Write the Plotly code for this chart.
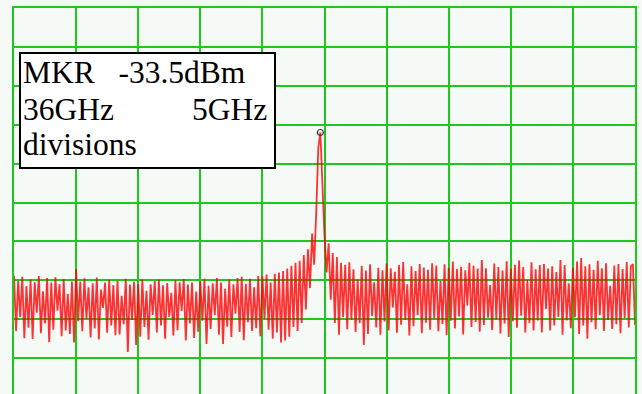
import plotly.graph_objects as go

# Spectrum analyser sweep: 301 samples from 11 GHz to 61 GHz, levels in dBm
start_ghz = 11.0
step_ghz = 50.0 / 300
levels_dbm = [
    # 11 GHz ... ~33.8 GHz (noise floor)
    -68.8, -83.0, -70.2, -79.5, -69.1, -84.9, -71.5, -82.2, -69.8, -85.1,
    -70.5, -78.3, -68.9, -83.6, -72.8, -81.1, -69.4, -85.9, -70.6, -82.7,
    -69.2, -77.8, -71.0, -84.4, -69.7, -82.9, -73.5, -83.8, -70.3, -86.0,
    -67.1, -80.5, -70.3, -83.1, -69.5, -79.9, -71.8, -84.7, -70.8, -82.4,
    -69.3, -85.2, -72.4, -77.1, -70.6, -83.5, -69.9, -81.6, -71.2, -84.1,
    -70.1, -83.9, -74.0, -81.3, -69.6, -88.4, -71.1, -80.2, -70.4, -86.6,
    -70.9, -84.5, -69.8, -82.0, -72.7, -85.3, -71.0, -78.9, -70.2, -83.4,
    -69.9, -81.6, -71.3, -85.0, -70.7, -79.4, -73.2, -84.2, -70.0, -82.8,
    -70.5, -77.9, -69.7, -85.5, -71.1, -81.1, -70.6, -84.8, -72.9, -83.2,
    -70.3, -80.4, -69.6, -86.4, -71.4, -82.5, -70.8, -79.0, -69.4, -84.0,
    -70.6, -86.4, -72.2, -81.9, -69.8, -84.6, -71.0, -78.6, -69.4, -83.3,
    -69.1, -85.4, -70.9, -80.8, -69.6, -83.0, -71.8, -82.3, -68.9, -84.4,
    -69.0, -79.9, -68.5, -82.7, -70.6, -85.0, -68.3, -83.4, -68.0, -86.0,
    -67.6, -85.5, -67.0, -84.5, -66.3, -82.0, -65.5, -83.0,
    # skirt and carrier peak (~35.7 GHz)
    -65.0, -81.0, -63.5, -77.5, -62.0, -72.0, -58.0, -66.0, -52.5, -36.0,
    -32.0, -47.0, -58.5, -68.0, -60.5, -75.0, -63.0, -81.0, -64.0, -84.0,
    -65.5,
    # ~37.5 GHz ... 61 GHz (noise floor)
    -79.5, -66.0, -82.6, -65.4, -80.1, -67.2, -83.3, -69.8, -81.0, -66.3,
    -86.6, -67.5, -83.8, -65.9, -79.2, -70.5, -82.1, -66.8, -84.0, -67.4,
    -80.6, -65.7, -82.9, -66.9, -77.0, -67.8, -83.5, -66.1, -81.4, -65.3,
    -80.2, -71.0, -84.2, -66.4, -81.8, -67.6, -79.0, -65.8, -83.6, -66.7,
    -80.9, -67.3, -82.7, -65.6, -79.8, -66.2, -83.1, -70.2, -81.2, -65.9,
    -84.1, -66.8, -80.4, -65.2, -82.4, -67.1, -79.3, -66.5, -83.9, -67.4,
    -76.5, -65.5, -82.0, -66.3, -80.7, -67.0, -83.2, -64.8, -81.5, -66.9,
    -79.6, -71.2, -82.8, -65.7, -80.0, -66.6, -83.7, -67.5, -81.1, -65.1,
    -84.6, -67.0, -80.5, -66.0, -82.2, -64.9, -79.1, -66.6, -83.4, -69.9,
    -81.0, -65.4, -82.9, -67.2, -80.3, -66.1, -83.4, -65.8, -77.4, -67.0,
    -82.9, -66.4, -81.6, -67.9, -79.4, -64.8, -84.0, -66.1, -80.3, -70.8,
    -82.3, -66.7, -79.5, -65.2, -83.8, -64.3, -81.6, -66.4, -85.0, -65.9,
    -80.8, -67.3, -82.6, -65.0, -79.0, -66.9, -83.0, -65.6, -80.2, -71.4,
    -82.5, -66.2, -81.3, -65.8, -83.6, -67.1, -79.7, -65.3, -82.1, -66.5,
    -65.8, -81.5,
]

marker_ghz = [35.667]
marker_dbm = [-32.0]

box_lines = ["MKR\u00a0\u00a0\u00a0-33.5dBm", "36GHz", "divisions"]
box_right_text = "5GHz"

x_range = [11, 61]         # 5 GHz / division
y_range = [-99.23, 0]      # 0 dBm reference, 10 dB / division

GREEN = "rgb(30,200,30)"

fig = go.Figure()
fig.add_trace(go.Scatter(
    x0=start_ghz, dx=step_ghz, y=levels_dbm, mode="lines",
    line=dict(color="rgb(255,0,0)", width=1.8, shape="linear"),
    opacity=0.8, hoverinfo="skip", showlegend=False,
))
fig.add_trace(go.Scatter(
    x=marker_ghz, y=marker_dbm, mode="markers",
    marker=dict(symbol="circle-open", size=6, color="#333333", line=dict(width=1.2)),
    showlegend=False,
))

grid = dict(showgrid=True, gridcolor=GREEN, gridwidth=1.5,
            zeroline=False, showticklabels=False, ticks="",
            showline=True, linecolor=GREEN, linewidth=1.5)
fig.update_xaxes(range=x_range, tick0=11, dtick=5, side="top", mirror=False, **grid)
fig.update_yaxes(range=y_range, tick0=0, dtick=10, mirror=True, **grid)

fig.add_shape(type="rect", xref="paper", yref="paper",
              x0=0.00966, x1=0.4203, y0=0.5855, y1=0.8834,
              line=dict(color="black", width=2), fillcolor="white", layer="above")

font = dict(family="Liberation Serif, Times New Roman, Times, serif", size=31.5, color="black")
line_y = [0.8329, 0.7383, 0.6451]
for txt, yy in zip(box_lines, line_y):
    fig.add_annotation(text=txt, xref="paper", yref="paper", x=0.01047, y=yy,
                       xanchor="left", yanchor="middle", showarrow=False, font=font)
fig.add_annotation(text=box_right_text, xref="paper", yref="paper", x=0.4106, y=line_y[1],
                   xanchor="right", yanchor="middle", showarrow=False, font=font)

fig.update_layout(
    width=642, height=394,
    margin=dict(l=14, r=7, t=8, b=0, pad=0),
    paper_bgcolor="#F6FAF6", plot_bgcolor="#F6FAF6",
    showlegend=False,
)
fig.write_html("out.html", config={"displayModeBar": False})
